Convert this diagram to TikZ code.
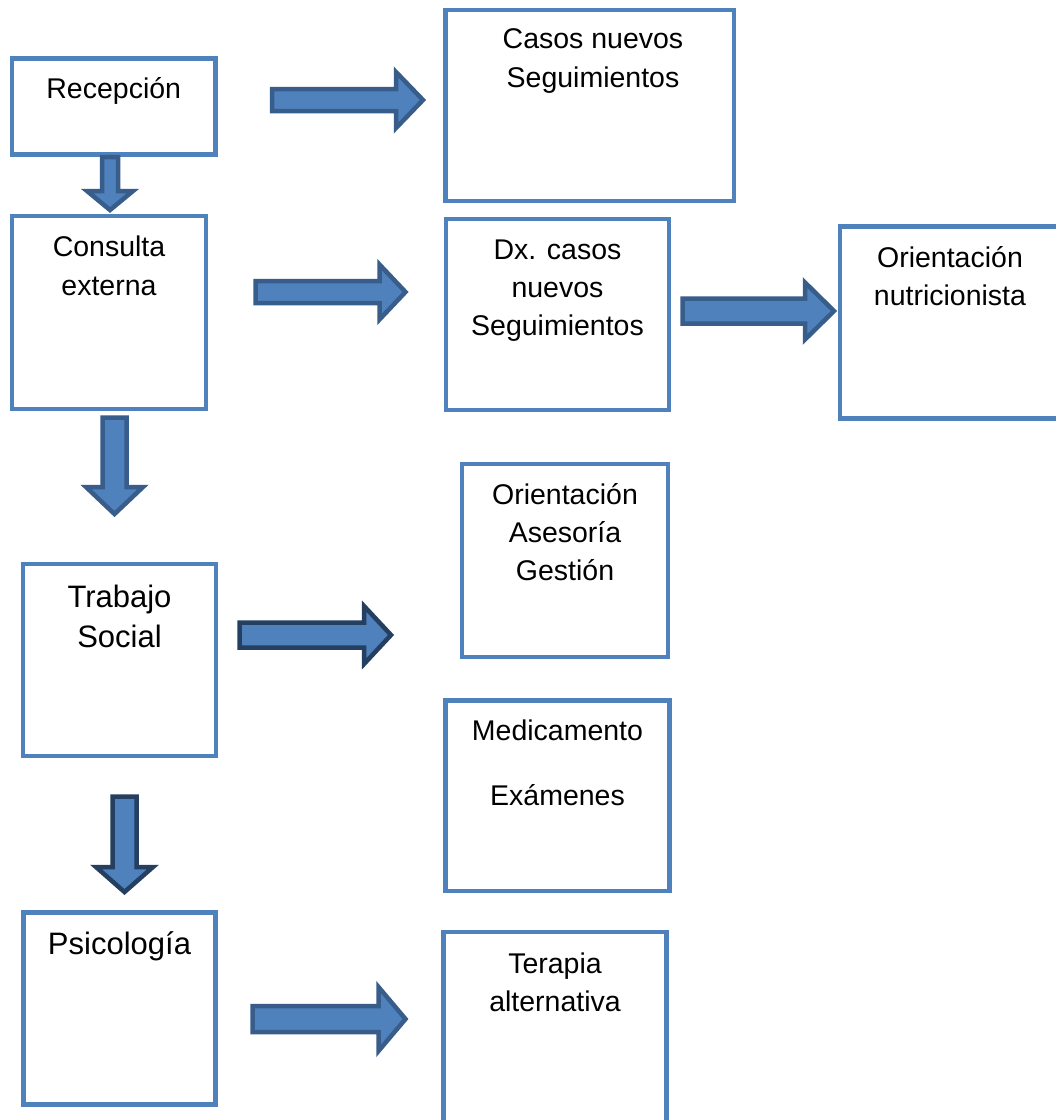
\documentclass[tikz,border=0pt]{standalone}
\usepackage{fontspec}
\setmainfont{Liberation Sans}
\definecolor{boxblue}{HTML}{4F81BD}
\definecolor{arrowedge}{HTML}{385D8A}
\definecolor{arrowdark}{HTML}{243F60}
\newcommand\rightblock[6]{% start, length, shaft half, head half, head length, style
  \draw[#6] (#1) ++(0,-#3) -- ++({#2-#5},0) -- ++(0,{-(#4-#3)}) -- ++(#5,#4) -- ++(-#5,#4) -- ++(0,{-(#4-#3)}) -- ++({-(#2-#5)},0) -- cycle;}
\newcommand\downblock[6]{%
  \draw[#6] (#1) ++(-#3,0) -- ++(0,{#2-#5}) -- ++({-(#4-#3)},0) -- ++(#4,#5) -- ++(#4,-#5) -- ++({-(#4-#3)},0) -- ++(0,{-(#2-#5)}) -- cycle;}
\begin{document}
\begin{tikzpicture}[x=1pt,y=-1pt,
  box/.style={draw=boxblue,line width=4.5pt,rectangle,inner sep=0pt,fill=white},
  txt/.style={anchor=base,inner sep=0pt,font=\fontsize{28.5}{34}\selectfont},
  bigtxt/.style={anchor=base,inner sep=0pt,font=\fontsize{31}{37}\selectfont},
  barrow/.style={fill=boxblue,draw=arrowedge,line width=4.5pt,line join=miter},
  darrow/.style={fill=boxblue,draw=arrowdark,line width=4.5pt,line join=miter}]
\useasboundingbox (0,0) rectangle (1056,1120);
\clip (0,0) rectangle (1056,1120);
\fill[white] (0,0) rectangle (1056,1120);
% boxes
\node[box,minimum width=203.5pt,minimum height=96pt] (rec) at (113.75,106.5) {};
\node[box,minimum width=288.5pt,minimum height=191pt] (casos) at (589.75,105.5) {};
\node[box,minimum width=194pt,minimum height=193pt] (cons) at (109,312.5) {};
\node[box,minimum width=223pt,minimum height=191pt] (dx) at (557.5,314.5) {};
\node[box,minimum width=220pt,minimum height=192pt] (nutr) at (950,322.5) {};
\node[box,minimum width=206pt,minimum height=193pt] (ori) at (565,560.5) {};
\node[box,minimum width=193pt,minimum height=192pt] (trab) at (119.5,660) {};
\node[box,minimum width=224pt,minimum height=190.5pt] (med) at (557.5,795.75) {};
\node[box,minimum width=192pt,minimum height=192pt] (psic) at (119.5,1008.5) {};
\node[box,minimum width=223pt,minimum height=198pt] (ter) at (555,1031) {};
% texts
\node[txt] (recT) at (113.75,98) {Recepción};
\node[txt] (casosT1) at (593,48) {Casos nuevos};
\node[txt] (casosT2) at (593,87) {Seguimientos};
\node[txt] (consT1) at (109,256) {Consulta};
\node[txt] (consT2) at (109,295) {externa};
\node[txt] (dxT1) at (557.5,259) {Dx. casos};
\node[txt] (dxT2) at (557.5,297) {nuevos};
\node[txt] (dxT3) at (557.5,335) {Seguimientos};
\node[txt] (nutrT1) at (950,267) {Orientación};
\node[txt] (nutrT2) at (950,305) {nutricionista};
\node[txt] (oriT1) at (565,504) {Orientación};
\node[txt] (oriT2) at (565,542) {Asesoría};
\node[txt] (oriT3) at (565,580) {Gestión};
\node[bigtxt] (trabT1) at (119.5,607) {Trabajo};
\node[bigtxt] (trabT2) at (119.5,647) {Social};
\node[txt] (medT1) at (557.5,740) {Medicamento};
\node[txt] (medT2) at (557.5,805) {Exámenes};
\node[bigtxt] (psicT) at (119.5,954) {Psicología};
\node[txt] (terT1) at (555,973) {Terapia};
\node[txt] (terT2) at (555,1011) {alternativa};
% arrow anchors
\coordinate (a1) at (272,100);
\coordinate (a2) at (110,157);
\coordinate (a3) at (255.5,292);
\coordinate (a4) at (682.5,311);
\coordinate (a5) at (114.5,417.5);
\coordinate (a6) at (239.5,635);
\coordinate (a7) at (124.5,796.5);
\coordinate (a8) at (252.5,1019);
% block arrows
\rightblock{a1}{151}{11}{28}{27}{barrow}
\downblock{a2}{53}{8}{23}{19}{barrow}
\rightblock{a3}{150}{11}{27.5}{26}{barrow}
\rightblock{a4}{151.5}{12.5}{28.5}{29}{barrow}
\downblock{a5}{96.5}{12}{28.5}{27}{barrow}
\rightblock{a6}{151.5}{12.5}{29}{27}{darrow}
\downblock{a7}{95.5}{12}{28.5}{25}{darrow}
\rightblock{a8}{153}{13}{32}{27}{barrow}
\end{tikzpicture}
\end{document}
